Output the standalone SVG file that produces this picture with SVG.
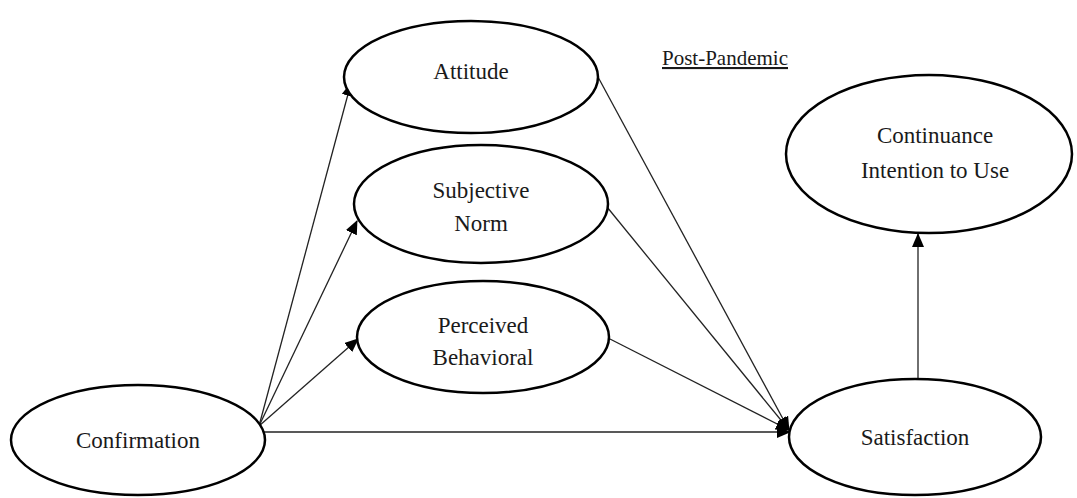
<svg xmlns="http://www.w3.org/2000/svg" width="1077" height="498" viewBox="0 0 1077 498">
<style>
.node ellipse{fill:#fff;stroke:#000;stroke-width:2.5}
.node text{font-family:"Liberation Serif","Times New Roman",serif;font-size:23px;fill:#1a1a1a;text-anchor:middle}
.edge{stroke:#222;stroke-width:1.3;fill:none;marker-end:url(#arr)}
.title{font-family:"Liberation Serif","Times New Roman",serif;font-size:21px;fill:#1a1a1a;text-decoration:underline}
</style>
<defs>
<marker id="arr" markerUnits="userSpaceOnUse" markerWidth="14" markerHeight="12" refX="13" refY="6" orient="auto">
<path d="M0,0 L14,6 L0,12 z" fill="#000"/>
</marker>
</defs>
<rect width="1077" height="498" fill="#fff"/>
<g id="connectors">
<line class="edge" x1="259" y1="426" x2="351" y2="83"/>
<line class="edge" x1="259" y1="426" x2="357" y2="221"/>
<line class="edge" x1="259" y1="426" x2="358" y2="339"/>
<line class="edge" x1="263" y1="432" x2="790" y2="432"/>
<line class="edge" x1="598" y1="77" x2="789" y2="430"/>
<line class="edge" x1="607" y1="207" x2="789" y2="430"/>
<line class="edge" x1="608" y1="338" x2="789" y2="430"/>
<line class="edge" x1="918" y1="378" x2="918" y2="234"/>
</g>
<g id="attitude" class="node">
<ellipse cx="471" cy="77" rx="127" ry="56"/>
<text x="471" y="79">Attitude</text>
</g>
<g id="subjective-norm" class="node">
<ellipse cx="481" cy="204" rx="127" ry="59"/>
<text x="481" y="198">Subjective</text>
<text x="481" y="231">Norm</text>
</g>
<g id="perceived-behavioral" class="node">
<ellipse cx="483" cy="337" rx="126" ry="56"/>
<text x="483" y="333">Perceived</text>
<text x="483" y="365">Behavioral</text>
</g>
<g id="confirmation" class="node">
<ellipse cx="138" cy="440" rx="127" ry="55"/>
<text x="138" y="448">Confirmation</text>
</g>
<g id="satisfaction" class="node">
<ellipse cx="915" cy="437" rx="126" ry="58"/>
<text x="915" y="445">Satisfaction</text>
</g>
<g id="continuance" class="node">
<ellipse cx="929" cy="154" rx="143" ry="79"/>
<text x="935" y="143">Continuance</text>
<text x="935" y="178">Intention to Use</text>
</g>
<text class="title" x="662" y="65">Post-Pandemic</text>
</svg>
